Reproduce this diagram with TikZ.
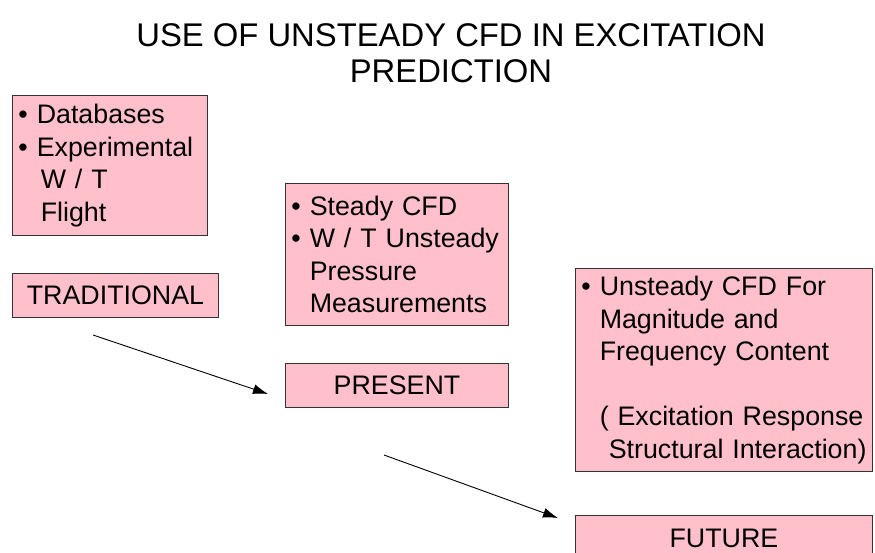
\documentclass[tikz,border=0pt]{standalone}
\usepackage{fontspec}
\setmainfont{Liberation Sans}
\usetikzlibrary{arrows.meta}
\definecolor{boxfill}{HTML}{FFC0CB}
\definecolor{boxline}{HTML}{333333}
\newcommand{\cont}{\hphantom{•\ }}
\begin{document}
\begin{tikzpicture}[x=1pt,y=-1pt,
  box/.style={draw=boxline, fill=boxfill, line width=0.9pt, anchor=north west,
    inner xsep=6pt, inner ysep=0pt, align=left,
    font=\fontsize{26.8}{32.5}\selectfont},
  tagbox/.style={draw=boxline, fill=boxfill, line width=0.9pt, anchor=north west,
    inner sep=0pt, align=center, font=\fontsize{26.8}{32}\selectfont},
  link/.style={line width=0.9pt, -{Latex[length=15pt,width=10pt]}},
  titletext/.style={align=center, font=\fontsize{32.8}{36}\selectfont}]
\clip (0,0) rectangle (875,553);
\fill[white] (0,0) rectangle (875,553);

\node[titletext] (title) at (451,53) {USE OF UNSTEADY CFD IN EXCITATION\\PREDICTION};

\node[box, text width=183pt, minimum height=140pt] (trad) at (12,95)
  {• Databases\\• Experimental\\\cont\hspace*{4pt}W / T\\\cont\hspace*{4pt}Flight};
\node[tagbox, minimum width=206pt, minimum height=44pt] (tradlab) at (12,273) {TRADITIONAL};

\node[box, text width=211pt, minimum height=142pt] (pres) at (285,183)
  {• Steady CFD\\• W / T Unsteady\\\cont Pressure\\\cont Measurements};
\node[tagbox, minimum width=223pt, minimum height=44pt] (preslab) at (285,363) {PRESENT};

\node[box, text width=285pt, minimum height=203pt] (fut) at (575,268)
  {• Unsteady CFD For\\\cont Magnitude and\\\cont Frequency Content\\[32.5pt]\cont ( Excitation Response\\\cont\hspace*{9pt}Structural Interaction)};
\node[tagbox, minimum width=297pt, minimum height=46pt] (futlab) at (575,515) {FUTURE};

\coordinate (a1s) at (93,335);
\coordinate (a1e) at (268,394);
\coordinate (a2s) at (384,455);
\coordinate (a2e) at (558,518);
\draw[link] (a1s) -- (a1e);
\draw[link] (a2s) -- (a2e);
\end{tikzpicture}
\end{document}
